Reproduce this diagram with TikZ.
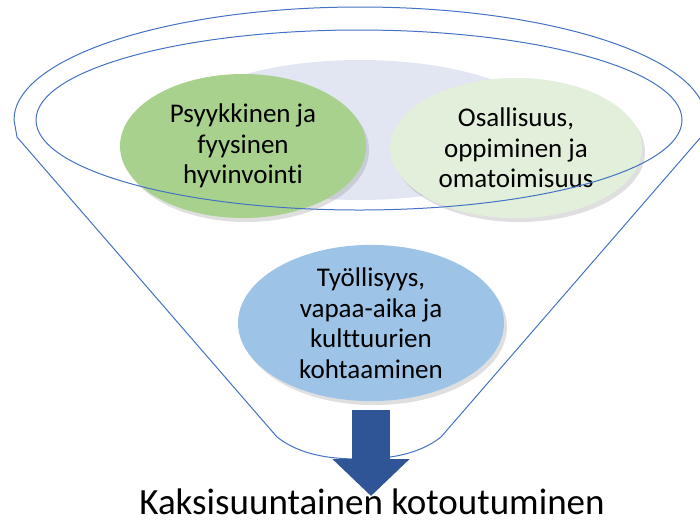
\documentclass[tikz,border=0pt]{standalone}
\usepackage{fontspec}
\setmainfont{Carlito}[Ligatures=CommonOff]
\usepackage{tikz}
\usetikzlibrary{shapes.geometric, arrows.meta, shadows, positioning}
\definecolor{rimblue}{RGB}{68, 114, 196}
\definecolor{flowblue}{RGB}{47, 85, 151}
\definecolor{leafgreen}{RGB}{169, 209, 142}
\definecolor{palegreen}{RGB}{226, 239, 218}
\definecolor{skyblue}{RGB}{157, 195, 230}
\definecolor{haze}{RGB}{225, 230, 242}
\tikzstyle{goal} = [ellipse, align=center, inner sep=0pt, font=\fontsize{27}{30.5}\selectfont, drop shadow={opacity=0.25, shadow xshift=3pt, shadow yshift=-4pt}]
\tikzstyle{rim} = [draw=rimblue, line width=1pt]
\tikzstyle{flow} = [-{Triangle[width=75pt, length=37pt]}, line width=38pt, flowblue]

\begin{document}
\begin{tikzpicture}[x=1pt, y=-1pt]
    \useasboundingbox (0, 0) rectangle (700, 523);

    % Background haze
    \node[ellipse, fill=haze, minimum width=380pt, minimum height=140pt] (haze) at (360, 130) {};

    % The three areas
    \node[goal, fill=leafgreen, minimum width=246pt, minimum height=144pt] (health) at (243, 146) {Psyykkinen ja\\fyysinen\\hyvinvointi};
    \node[goal, fill=palegreen, minimum width=252pt, minimum height=140pt] (learning) at (516, 148) {Osallisuus,\\oppiminen ja\\omatoimisuus};
    \node[goal, fill=skyblue, minimum width=266pt, minimum height=136pt] (work) at (371, 323) {Työllisyys,\\vapaa-aika ja\\kulttuurien\\kohtaaminen};

    % Funnel
    \draw[rim] (359, 120) ellipse [x radius=323, y radius=90];
    \draw[rim] (17, 137) -- (277, 437)
        .. controls (300, 455) and (330, 459) .. (359, 459)
        .. controls (388, 459) and (418, 455) .. (441, 437)
        -- (701, 137) -- (706, 120)
        arc [start angle=0, end angle=-180, x radius=346, y radius=113] -- cycle;

    % Result
    \node[anchor=base, inner sep=0pt, font=\fontsize{37}{44}\selectfont] (result) at (372, 514) {Kaksisuuntainen kotoutuminen};
    \coordinate (spout) at (371, 410);
    \coordinate (tip) at (371, 496);
    \draw[flow] (spout) -- (tip);
\end{tikzpicture}
\end{document}
